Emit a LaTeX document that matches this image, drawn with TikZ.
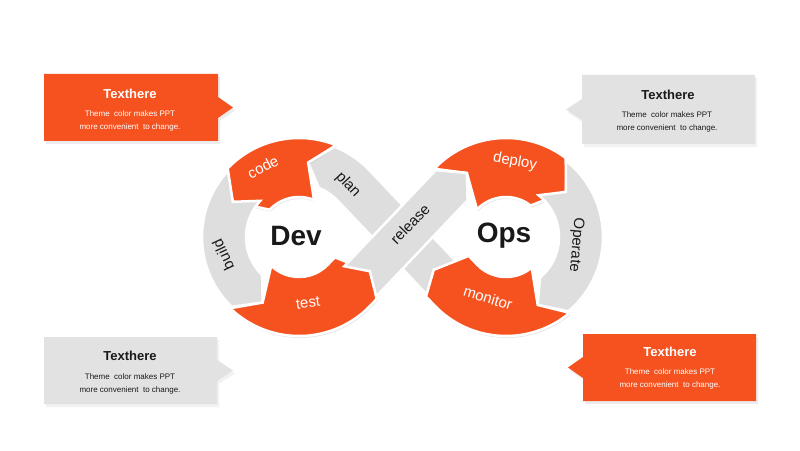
\documentclass[tikz,border=0pt]{standalone}
\usepackage{fontspec}
\setmainfont{Liberation Sans}
\usetikzlibrary{calc,shadows}
\definecolor{ora}{RGB}{245,82,31}
\definecolor{segGray}{RGB}{222,222,222}
\definecolor{boxGray}{RGB}{226,226,226}
\definecolor{ink}{RGB}{25,25,25}
\tikzset{
  grayseg/.style={fill=segGray, draw=white, line width=2.5pt, line join=miter,
    drop shadow={shadow xshift=0.5pt, shadow yshift=-1.5pt, opacity=0.08}},
  orangeseg/.style={fill=ora, draw=white, line width=2.5pt, line join=miter,
    drop shadow={shadow xshift=1pt, shadow yshift=-2pt, opacity=0.18}},
  lbl/.style={font=\fontsize{15}{15}\selectfont, inner sep=0pt},
  bigl/.style={font=\bfseries\fontsize{28}{28}\selectfont, text=ink, inner sep=0pt},
  boxtitle/.style={font=\bfseries\fontsize{13}{13}\selectfont, inner sep=0pt},
  boxbody/.style={font=\fontsize{8}{13}\selectfont, align=center, inner sep=0pt},
  orabox/.style={fill=ora, drop shadow={shadow xshift=2pt, shadow yshift=-3pt, opacity=0.15}},
  graybox/.style={fill=boxGray, drop shadow={shadow xshift=2pt, shadow yshift=-3pt, opacity=0.10}}
}
% #1 style, #2 centre, #3 tail angle, #4 head angle, #5 notch angle, #6 tip angle, #7 inner r, #8 outer r
\newcommand\polseg[8]{%
  \path[#1] ($(#2)+(#3:#8)$) arc[start angle=#3, end angle=#4, radius=#8]
    -- ($(#2)+(#6:75pt)$) -- ($(#2)+(#4:#7)$)
    arc[start angle=#4, end angle=#3, radius=#7]
    -- ($(#2)+(#5:75pt)$) -- cycle;}
\begin{document}
\begin{tikzpicture}[x=1pt,y=1pt]
\useasboundingbox (0,0) rectangle (800,450);
\fill[white] (0,0) rectangle (800,450);
\coordinate (D) at (299,213);
\coordinate (O) at (506,213);

% ---------- plan (under release)
\path[grayseg] ($(O)+(223.56:53pt)+(133.56:12pt)$) -- ($(D)+(43.56:97pt)$)
  arc[start angle=43.56, end angle=68, radius=97pt]
  -- ($(D)+(83:75pt)$) -- ($(D)+(68:53pt)$)
  arc[start angle=68, end angle=43.56, radius=53pt]
  -- ($(O)+(223.56:97pt)+(133.56:12pt)$)
  -- ($(O)+(223.56:75pt)+(133.56:26pt)$) -- cycle;

% ---------- Dev ring
\polseg{orangeseg}{D}{68}{137}{83}{152}{40pt}{99pt}
\polseg{grayseg}{D}{137}{226}{152}{241}{53pt}{97pt}
\path[orangeseg] ($(D)+(226:99pt)$) arc[start angle=226, end angle=316.44, radius=99pt]
  -- ($(D)+(316.44:99pt)+(46.44:10pt)$)
  -- ($(D)+(316.44:75pt)+(46.44:24pt)$)
  -- ($(D)+(316.44:40pt)+(46.44:10pt)$)
  -- ($(D)+(316.44:40pt)$)
  arc[start angle=316.44, end angle=226, radius=40pt]
  -- ($(D)+(241:75pt)$) -- cycle;

% ---------- Ops ring
\polseg{orangeseg}{O}{136.44}{52}{121.44}{37}{40pt}{99pt}
\polseg{grayseg}{O}{52}{-50}{37}{-65}{53pt}{97pt}
\path[orangeseg] ($(O)+(-50:99pt)$) arc[start angle=-50, end angle=-136.44, radius=99pt]
  -- ($(O)+(-136.44:99pt)+(133.56:12pt)$)
  -- ($(O)+(-136.44:75pt)+(133.56:26pt)$)
  -- ($(O)+(-136.44:40pt)+(133.56:12pt)$)
  -- ($(O)+(-136.44:40pt)$)
  arc[start angle=-136.44, end angle=-50, radius=40pt]
  -- ($(O)+(-65:75pt)$) -- cycle;

% ---------- release (on top)
\path[grayseg] ($(D)+(316.44:97pt)+(46.44:10pt)$) -- ($(O)+(136.44:53pt)$)
  -- ($(O)+(121.44:75pt)$) -- ($(O)+(136.44:97pt)$)
  -- ($(D)+(316.44:53pt)+(46.44:10pt)$)
  -- ($(D)+(316.44:75pt)+(46.44:24pt)$) -- cycle;

% ---------- labels
\node[lbl, text=white, rotate=27] (lcode) at (263,283) {code};
\node[lbl, text=ink, rotate=115] (lbuild) at (223,195) {build};
\node[lbl, text=white, rotate=7] (ltest) at (308,147) {test};
\node[lbl, text=ink, rotate=-47] (lplan) at (348,265) {plan};
\node[lbl, text=ink, rotate=46] (lrel) at (410,226) {release};
\node[lbl, text=white, rotate=-10] (ldep) at (515,288) {deploy};
\node[lbl, text=ink, rotate=-95] (lop) at (576,205) {Operate};
\node[lbl, text=white, rotate=-17] (lmon) at (488,152) {monitor};
\node[bigl] (dev) at (296,214) {Dev};
\node[bigl] (ops) at (504,214) {Ops};

% ---------- callout boxes
\path[orabox] (44,376) -- (218,376) -- (218,353) -- (233,342.5) -- (218,332) -- (218,309) -- (44,309) -- cycle;
\node[boxtitle, text=white] (t1) at (130,356) {Texthere};
\node[boxbody, text=white] (b1) at (130,329.5) {Theme\ \ color makes PPT\\more convenient\ \ to change.};

\path[graybox] (755,375) -- (582,375) -- (582,351) -- (566,340.5) -- (582,330) -- (582,306) -- (755,306) -- cycle;
\node[boxtitle, text=ink] (t2) at (668,355) {Texthere};
\node[boxbody, text=ink] (b2) at (667,328) {Theme\ \ color makes PPT\\more convenient\ \ to change.};

\path[graybox] (44,113) -- (217,113) -- (217,90) -- (233,79.5) -- (217,69) -- (217,46) -- (44,46) -- cycle;
\node[boxtitle, text=ink] (t3) at (130,94) {Texthere};
\node[boxbody, text=ink] (b3) at (130,66.5) {Theme\ \ color makes PPT\\more convenient\ \ to change.};

\path[orabox] (756,116) -- (583,116) -- (583,93) -- (568,82.5) -- (583,72) -- (583,49) -- (756,49) -- cycle;
\node[boxtitle, text=white] (t4) at (670,98) {Texthere};
\node[boxbody, text=white] (b4) at (670,71) {Theme\ \ color makes PPT\\more convenient\ \ to change.};
\end{tikzpicture}
\end{document}
